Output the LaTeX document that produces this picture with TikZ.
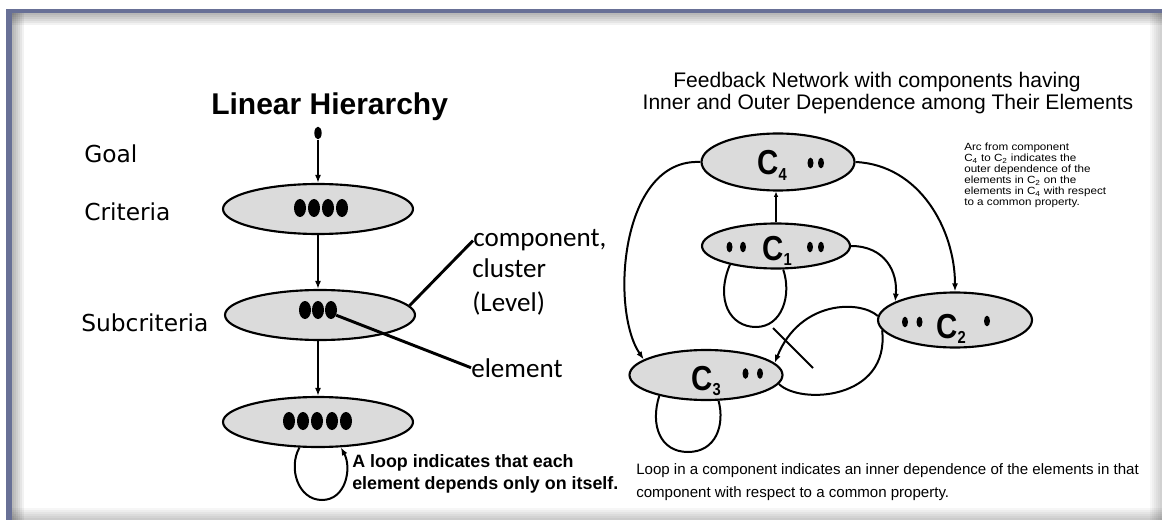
\documentclass[tikz,border=0pt]{standalone}
\usepackage{fontspec}
\usepackage{graphicx}
\usetikzlibrary{shapes.geometric,arrows.meta,backgrounds,calc}
\setmainfont{Liberation Sans}
\newfontfamily\lblfont{DejaVu Sans}
\newfontfamily\carlfont{Carlito}
\newfontfamily\cfont[FakeStretch=0.85]{Liberation Sans}
\newfontfamily\annfont[FakeStretch=1.12]{Liberation Sans}
\definecolor{framec}{RGB}{104,112,150}
\newcommand\csub[1]{\raisebox{-4pt}{\fontsize{13pt}{13pt}\selectfont #1}}

\begin{document}
\begin{tikzpicture}[x=0.75pt,y=-0.75pt,
  comp/.style={ellipse,draw=black,line width=1.6pt,fill=black!14,inner sep=0pt},
  lhcomp/.style={comp,minimum width=142.5pt,minimum height=37.5pt},
  elbig/.style={ellipse,fill=black,inner sep=0pt,minimum width=9pt,minimum height=13.5pt},
  elsmall/.style={ellipse,fill=black,inner sep=0pt,minimum width=4.5pt,minimum height=8pt},
  txt/.style={inner sep=0pt,anchor=base west},
  lvl/.style={txt,font=\lblfont\fontsize{17.5pt}{20pt}\selectfont},
  note/.style={txt,font=\carlfont\fontsize{20.3pt}{24pt}\selectfont},
  clab/.style={txt,font=\cfont\bfseries\fontsize{26pt}{26pt}\selectfont},
  ann/.style={txt,font=\annfont\fontsize{7.8pt}{8pt}\selectfont},
  bott/.style={txt,font=\fontsize{11.3pt}{13pt}\selectfont},
  conn/.style={line width=1.5pt},
  arrtip/.style={-{Latex[length=6pt,width=4.5pt]}},
  ptr/.style={line width=2.2pt},
]
\useasboundingbox (0,0) rectangle (1162,520);

% frame
\begin{scope}[on background layer]
\fill[white] (0,0) rectangle (1162,520);
\foreach \k in {1,...,6}{
  \fill[black,opacity=0.05] (11.5,13.5) rectangle (1162,13.5+2*\k);
  \fill[black,opacity=0.05] (11.5,13.5) rectangle (11.5+2*\k,520);
  \fill[black,opacity=0.035] (11.5,520-2*\k) rectangle (1162,520);
  \fill[black,opacity=0.03] (1162-2*\k,13.5) rectangle (1162,520);
}
\fill[framec] (6,9.5) rectangle (1162,13.5);
\fill[framec] (6,9.5) rectangle (11.5,520);
\end{scope}

% ---------- Linear hierarchy ----------
\node[txt,font=\bfseries\fontsize{22.5pt}{26pt}\selectfont] (lhtitle) at (211,115) {Linear Hierarchy};
\node[lvl] (tgoal) at (84,163) {Goal};
\node[lvl] (tcrit) at (84,220) {Criteria};
\node[lvl] (tsub) at (81,331) {Subcriteria};

\node[ellipse,fill=black,inner sep=0pt,minimum width=5.5pt,minimum height=9.5pt] (goal) at (318,133) {};
\node[lhcomp] (crit) at (318,209) {};
\node[lhcomp] (sub) at (320,315) {};
\node[lhcomp] (alt) at (318,422) {};

\foreach \i/\x in {1/300,2/314,3/328,4/342}{\node[elbig] (cd\i) at (\x,208) {};}
\foreach \i/\x in {1/305,2/318,3/331}{\node[elbig] (sd\i) at (\x,310) {};}
\foreach \i/\x in {1/289,2/303,3/317,4/332,5/346}{\node[elbig] (ad\i) at (\x,421) {};}

\node[note] (tcomp) at (473,247) {component,};
\node[note] (tclus) at (472,277) {cluster};
\node[note] (tlev) at (472,311) {(Level)};
\node[note] (telem) at (471,377) {element};

\node[txt,font=\bfseries\fontsize{13.4pt}{16pt}\selectfont] (lp1) at (352,467) {A loop indicates that each};
\node[txt,font=\bfseries\fontsize{13.4pt}{16pt}\selectfont] (lp2) at (352,489) {element depends only on itself.};

\draw[ptr] (tcomp.west) -- (sub.6);
\draw[ptr] (sd3.315) -- (telem.west);

% ---------- Feedback network ----------
\node[anchor=base,inner sep=0pt,font=\fontsize{15.8pt}{18pt}\selectfont] (ft1) at (877,88) {Feedback Network with components having};
\node[anchor=base,inner sep=0pt,font=\fontsize{15.8pt}{18pt}\selectfont] (ft2) at (888,110) {Inner and Outer Dependence among Their Elements};

\node[comp,minimum width=114.75pt,minimum height=42.75pt] (C4) at (778,162) {};
\node[comp,minimum width=111pt,minimum height=33.75pt] (C1) at (776,246) {};
\node[comp,minimum width=114.75pt,minimum height=37.5pt] (C3) at (706,375) {};
\node[comp,minimum width=115.5pt,minimum height=41.25pt] (C2) at (955,320) {};

\node[clab] (C4t) at (757,175) {C\csub{4}};
\node[clab] (C1t) at (762,260) {C\csub{1}};
\node[clab] (C3t) at (691,390) {C\csub{3}};
\node[clab] (C2t) at (936,338) {C\csub{2}};

\node[elsmall] (e41) at (810.5,163) {};
\node[elsmall] (e42) at (821,163) {};
\node[elsmall] (e11) at (729.5,247) {};
\node[elsmall] (e12) at (743,247) {};
\node[elsmall] (e13) at (810,247) {};
\node[elsmall] (e14) at (821,247) {};
\node[elsmall] (e31) at (745.5,373.5) {};
\node[elsmall] (e32) at (760,373.5) {};
\node[elsmall] (e21) at (905,322) {};
\node[elsmall] (e22) at (919.5,322) {};
\node[elsmall] (e23) at (987,321) {};

\node[ann] (a1) at (964,151) {Arc from component};
\node[ann] (a2) at (964,162) {C\textsubscript{4} to C\textsubscript{2} indicates the};
\node[ann] (a3) at (964,173) {outer dependence of the};
\node[ann] (a4) at (964,184) {elements in C\textsubscript{2} on the};
\node[ann] (a5) at (964,195) {elements in C\textsubscript{4} with respect};
\node[ann] (a6) at (964,206) {to a common property.};

\node[bott] (b1) at (636,474) {Loop in a component indicates an inner dependence of the elements in that};
\node[bott] (b2) at (636,497) {component with respect to a common property.};

\coordinate (d1) at (773,328);
\coordinate (d2) at (813,368);

% ---------- connectors (behind the components) ----------
\begin{scope}[on background layer]
\draw[conn,arrtip] (goal) -- (crit.north);
\draw[conn,arrtip] (crit.south) -- (crit.south |- sub.north);
\draw[conn,arrtip] (sub.south -| crit.south) -- (alt.north);
\draw[conn,arrtip] (alt.234) .. controls (288,468) and (298,500) .. (322,500)
      .. controls (346,500) and (352,468) .. (alt.312);

\draw[line width=1.2pt,-{Latex[length=4pt,width=3.5pt]}] (C1.north) -- (C1.north |- C4.south);
\draw[conn,arrtip] (C4.west) .. controls (620,158) and (610,310) .. (C3.166);
\draw[conn,arrtip] (C4.east) .. controls (920,165) and (955,230) .. (C2.north);
\draw[conn,arrtip] (C1.east) .. controls (885,246) and (898,272) .. (C2.163);
\draw[conn] (C1.202) .. controls (715,300) and (730,327) .. (756,327)
      .. controls (782,327) and (792,295) .. (C1.287);
\draw[conn] (C3.204) .. controls (650,425) and (660,452) .. (688,452)
      .. controls (716,452) and (725,425) .. (C3.296);
\draw[conn,arrtip] (C2.177) .. controls (860,300) and (800,300) .. (C3.10);
\draw[conn] (C3.353) .. controls (800,405) and (890,400) .. (C2.188);
\draw[conn] (d1) -- (d2);
\end{scope}
\end{tikzpicture}
\end{document}
